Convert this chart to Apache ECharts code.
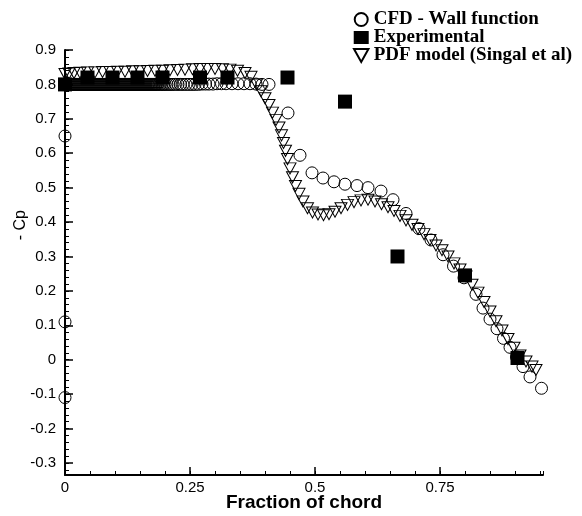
<!DOCTYPE html>
<html>
<head>
<meta charset="utf-8">
<script src="https://cdn.jsdelivr.net/npm/echarts@6/dist/echarts.min.js"></script>
<style>
html,body{margin:0;padding:0;background:#fff;}
#chart{width:582px;height:516px;}
</style>
</head>
<body>
<div id="chart"></div>
<script>
// ---- Data (x = fraction of chord, y = -Cp) ----
const seriesNames = ['CFD - Wall function', 'Experimental', 'PDF model (Singal et al)'];

const cfdPoints = [
  [0, 0.65], [0, 0.11], [0, -0.11],
  [0.001, 0.80], [0.003, 0.80], [0.005, 0.80], [0.007, 0.80], [0.009, 0.80], [0.011, 0.80],
  [0.013, 0.80], [0.015, 0.80], [0.017, 0.80], [0.019, 0.80], [0.021, 0.80], [0.023, 0.80],
  [0.025, 0.80], [0.027, 0.80], [0.029, 0.80], [0.031, 0.80], [0.033, 0.80], [0.035, 0.80],
  [0.037, 0.80], [0.039, 0.80], [0.041, 0.80], [0.043, 0.80], [0.045, 0.80], [0.047, 0.80],
  [0.049, 0.80], [0.051, 0.80], [0.053, 0.80], [0.055, 0.80], [0.057, 0.80], [0.059, 0.80],
  [0.061, 0.80], [0.063, 0.80], [0.065, 0.80], [0.067, 0.80], [0.069, 0.80], [0.071, 0.80],
  [0.073, 0.80], [0.075, 0.80], [0.077, 0.80], [0.079, 0.80], [0.081, 0.80], [0.083, 0.80],
  [0.085, 0.80], [0.087, 0.80], [0.089, 0.80], [0.091, 0.80], [0.093, 0.80], [0.095, 0.80],
  [0.097, 0.80], [0.099, 0.80], [0.101, 0.80], [0.103, 0.80], [0.105, 0.80], [0.107, 0.80],
  [0.109, 0.80], [0.111, 0.80], [0.113, 0.80], [0.115, 0.80], [0.117, 0.80], [0.119, 0.80],
  [0.121, 0.80], [0.123, 0.80], [0.125, 0.80], [0.127, 0.80], [0.129, 0.80], [0.131, 0.80],
  [0.133, 0.80], [0.135, 0.80], [0.137, 0.80], [0.139, 0.80], [0.141, 0.80], [0.143, 0.80],
  [0.145, 0.80], [0.147, 0.80], [0.149, 0.80], [0.151, 0.80], [0.153, 0.80], [0.155, 0.80],
  [0.157, 0.80], [0.159, 0.80], [0.161, 0.80], [0.163, 0.80], [0.165, 0.80], [0.167, 0.80],
  [0.169, 0.80], [0.171, 0.80], [0.173, 0.80], [0.175, 0.80], [0.177, 0.80], [0.179, 0.80],
  [0.181, 0.80], [0.183, 0.80], [0.185, 0.80], [0.188, 0.80], [0.191, 0.80], [0.194, 0.80],
  [0.197, 0.80], [0.200, 0.80], [0.204, 0.80], [0.208, 0.80], [0.212, 0.80], [0.216, 0.80],
  [0.221, 0.80], [0.226, 0.80], [0.231, 0.80], [0.236, 0.80], [0.242, 0.80], [0.248, 0.80],
  [0.254, 0.80], [0.260, 0.80], [0.267, 0.80], [0.274, 0.801], [0.281, 0.801], [0.288, 0.801],
  [0.296, 0.801], [0.304, 0.802], [0.313, 0.802], [0.322, 0.802], [0.334, 0.802], [0.346, 0.802],
  [0.358, 0.802], [0.370, 0.802], [0.382, 0.801], [0.394, 0.80], [0.408, 0.80],
  [0.446, 0.717], [0.470, 0.594], [0.494, 0.543], [0.516, 0.528], [0.538, 0.517], [0.560, 0.510],
  [0.584, 0.506], [0.606, 0.500], [0.632, 0.490], [0.656, 0.465], [0.682, 0.425], [0.708, 0.381],
  [0.732, 0.348], [0.756, 0.305], [0.777, 0.272], [0.798, 0.238], [0.822, 0.190], [0.836, 0.150],
  [0.850, 0.118], [0.864, 0.090], [0.877, 0.062], [0.890, 0.036], [0.903, 0.008], [0.916, -0.020],
  [0.930, -0.050], [0.953, -0.083]
];

const expPoints = [
  [0, 0.80], [0.045, 0.82], [0.095, 0.82], [0.145, 0.82], [0.195, 0.82], [0.27, 0.82],
  [0.325, 0.82], [0.445, 0.82], [0.56, 0.75], [0.665, 0.30], [0.80, 0.245], [0.905, 0.005]
];

const pdfPoints = [
  [0.000, 0.830], [0.008, 0.832], [0.018, 0.833], [0.030, 0.834], [0.045, 0.835], [0.060, 0.835],
  [0.075, 0.836], [0.090, 0.836], [0.105, 0.837], [0.120, 0.837], [0.135, 0.838], [0.150, 0.838],
  [0.165, 0.839], [0.180, 0.840], [0.195, 0.840], [0.210, 0.841], [0.225, 0.842], [0.240, 0.843],
  [0.255, 0.844], [0.270, 0.845], [0.285, 0.845], [0.300, 0.845], [0.315, 0.844], [0.330, 0.843],
  [0.345, 0.840], [0.360, 0.833], [0.372, 0.822], [0.383, 0.800], [0.392, 0.780], [0.400, 0.760],
  [0.408, 0.740], [0.415, 0.718], [0.422, 0.697], [0.428, 0.675], [0.433, 0.652], [0.437, 0.630],
  [0.441, 0.607], [0.445, 0.583], [0.450, 0.556], [0.455, 0.530], [0.461, 0.505], [0.468, 0.482],
  [0.476, 0.460], [0.485, 0.440], [0.495, 0.428], [0.506, 0.422], [0.517, 0.420], [0.528, 0.423],
  [0.540, 0.430], [0.552, 0.440], [0.565, 0.450], [0.578, 0.458], [0.592, 0.463], [0.606, 0.465],
  [0.620, 0.460], [0.633, 0.452], [0.646, 0.443], [0.658, 0.432], [0.670, 0.418], [0.682, 0.405],
  [0.694, 0.392], [0.706, 0.380], [0.718, 0.365], [0.730, 0.348], [0.742, 0.332], [0.754, 0.318],
  [0.766, 0.300], [0.778, 0.280], [0.790, 0.262], [0.802, 0.242], [0.814, 0.218], [0.826, 0.195],
  [0.838, 0.168], [0.850, 0.140], [0.862, 0.112], [0.874, 0.085], [0.886, 0.060], [0.898, 0.035],
  [0.910, 0.012], [0.922, -0.005], [0.934, -0.020], [0.942, -0.030]
];

const xTitle = 'Fraction of chord';
const yTitle = '- Cp';

// ---- Chart ----
const chart = echarts.init(document.getElementById('chart'), null, { renderer: 'canvas' });
const downTri = 'path://M0,0L10,0L5,9Z';
const AX_FONT = 'Liberation Sans';

const option = {
  animation: false,
  backgroundColor: '#fff',
  grid: { left: 65, right: 39, top: 50, bottom: 41, outerBoundsMode: 'none', containLabel: false },
  legend: {
    orient: 'vertical',
    left: 348,
    top: 5,
    itemWidth: 15,
    itemHeight: 13,
    itemGap: -1,
    data: [
      { name: seriesNames[0], icon: 'circle' },
      { name: seriesNames[1], icon: 'rect' },
      { name: seriesNames[2], icon: downTri }
    ],
    textStyle: { fontFamily: 'Liberation Serif', fontWeight: 'bold', fontSize: 19, color: '#000' }
  },
  xAxis: [
    {
      type: 'value', min: 0, max: 0.956, interval: 0.25,
      axisLine: { show: true, onZero: false, lineStyle: { color: '#000', width: 2 } },
      axisTick: { show: true, inside: true, length: 8, lineStyle: { color: '#000', width: 1.5 } },
      axisLabel: { showMaxLabel: false, fontFamily: AX_FONT, fontSize: 15, color: '#000', margin: 5 },
      splitLine: { show: false },
      name: xTitle, nameLocation: 'middle', nameGap: 18, nameMoveOverlap: false,
      nameTextStyle: { fontFamily: AX_FONT, fontWeight: 'bold', fontSize: 19, color: '#000', verticalAlign: 'top' }
    },
    {
      type: 'value', min: 0, max: 0.956, interval: 0.05, position: 'bottom',
      axisLine: { show: false, onZero: false },
      axisTick: { show: true, inside: true, length: 4, lineStyle: { color: '#000', width: 1 } },
      axisLabel: { show: false },
      splitLine: { show: false }
    }
  ],
  yAxis: [
    {
      type: 'value', min: -0.335, max: 0.9, splitNumber: 12,
      axisLine: { show: true, onZero: false, lineStyle: { color: '#000', width: 2 } },
      axisTick: { show: true, inside: true, length: 8, lineStyle: { color: '#000', width: 1.5 } },
      axisLabel: { showMinLabel: false, fontFamily: AX_FONT, fontSize: 15, color: '#000', margin: 9 },
      splitLine: { show: false }
    },
    {
      type: 'value', min: -0.335, max: 0.9, splitNumber: 60, position: 'left',
      axisLine: { show: false, onZero: false },
      axisTick: { show: true, inside: true, length: 4, lineStyle: { color: '#000', width: 1 } },
      axisLabel: { show: false },
      splitLine: { show: false }
    }
  ],
  graphic: [
    {
      type: 'text', left: 13, top: 210, rotation: Math.PI / 2,
      style: { text: yTitle, fontFamily: AX_FONT, fontSize: 16, fill: '#000' }
    }
  ],
  series: [
    {
      name: seriesNames[0], type: 'scatter', data: cfdPoints,
      symbol: 'circle', symbolSize: 12, clip: false,
      itemStyle: { color: 'rgba(255,255,255,0)', borderColor: '#000', borderWidth: 1, opacity: 1 }
    },
    {
      name: seriesNames[2], type: 'scatter', data: pdfPoints,
      symbol: downTri, symbolSize: [12, 11], clip: false,
      itemStyle: { color: 'rgba(255,255,255,0)', borderColor: '#000', borderWidth: 1, opacity: 1 }
    },
    {
      name: seriesNames[1], type: 'scatter', data: expPoints,
      symbol: 'rect', symbolSize: 14, clip: false,
      itemStyle: { color: '#000', opacity: 1 }
    }
  ]
};
chart.setOption(option);
</script>
</body>
</html>
